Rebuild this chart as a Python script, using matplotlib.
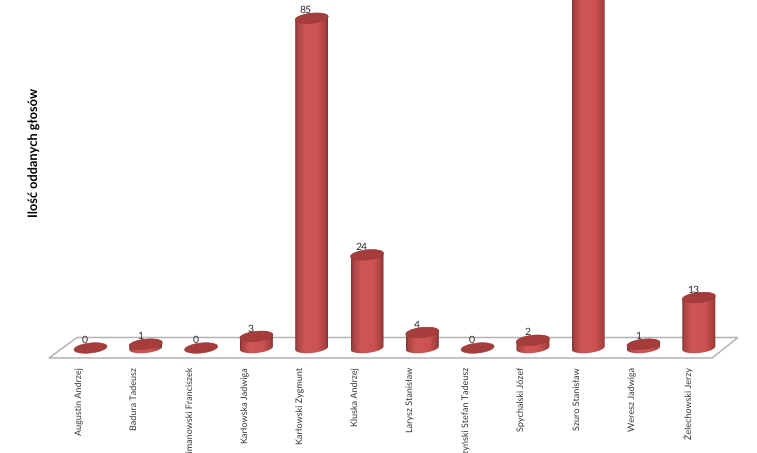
import numpy as np
import matplotlib
matplotlib.use("Agg")
import matplotlib.pyplot as plt
from matplotlib.colors import LinearSegmentedColormap
from matplotlib.patches import Polygon
from matplotlib.transforms import ScaledTranslation

names = ["Augustin Andrzej", "Badura Tadeusz", "Limanowski Franciszek", "Karłowska Jadwiga",
         "Karłowski Zygmunt", "Kluska Andrzej", "Larysz Stanisław", "Muszyński Stefan Tadeusz",
         "Spychalski Józef", "Szuro Stanisław", "Weresz Jadwiga", "Żelechowski Jerzy"]
votes = [0, 1, 0, 3, 85, 24, 4, 0, 2, 100, 1, 13]
shown_labels = [True] * 9 + [False] + [True] * 2

W, H = 757, 453
BASE_PX = 348          # pixel row of value 0
BOTTOM_PX = 362        # pixel row of the axes' lower edge
UNIT_PX = 3.88         # pixels per vote
STEP_PX = 55.3         # pixels per category
FIRST_PX = 90.5        # pixel column of first category

plt.rcParams["text.hinting"] = "no_hinting"
fig = plt.figure(figsize=(W / 100, H / 100), dpi=100, facecolor="white")
ax = fig.add_axes([0, (H - BOTTOM_PX) / H, 1, BOTTOM_PX / H])
xlim = (-FIRST_PX / STEP_PX, (W - FIRST_PX) / STEP_PX)
ylim = ((BASE_PX - BOTTOM_PX) / UNIT_PX, BASE_PX / UNIT_PX)
for s in ax.spines.values():
    s.set_visible(False)

font = ["Lato", "DejaVu Sans"]

# floor
def px(x, y):
    return ((x - FIRST_PX) / STEP_PX, (BASE_PX - y) / UNIT_PX)
floor = Polygon([px(49, 358), px(77, 337.5), px(738, 337.5), px(712, 358)], closed=True,
                facecolor="white", edgecolor="#b4b4b4", lw=1.1, clip_on=False, zorder=1)
ax.add_patch(floor)

cmap = LinearSegmentedColormap.from_list("cyl", [(0, "#823331"), (0.07, "#a84443"), (0.3, "#cf5654"),
                                                  (0.7, "#cb5250"), (0.93, "#a54140"), (1, "#7e3130")])
grad = np.linspace(0, 1, 128).reshape(1, -1)
a = 16.5 / STEP_PX
b = 5.0 / UNIT_PX
k = 1.6 / UNIT_PX

for i, v in enumerate(votes):
    t = np.linspace(0, 2 * np.pi, 80)
    ex = i + a * np.cos(t)
    ey = b * np.sin(t) + k * np.cos(t)
    if v > 0:
        tb = np.linspace(np.pi, 2 * np.pi, 40)
        tt = np.linspace(0, np.pi, 40)
        body = np.vstack([
            np.c_[i + a * np.cos(tb), b * np.sin(tb) + k * np.cos(tb)],
            np.c_[i + a * np.cos(tt), v + b * np.sin(tt) + k * np.cos(tt)],
        ])
        poly = Polygon(body, closed=True, transform=ax.transData, facecolor="none", edgecolor="none")
        ax.add_patch(poly)
        im = ax.imshow(grad, cmap=cmap, extent=[i - a, i + a, -b - k, v + b + k], aspect="auto",
                       zorder=2)
        im.set_clip_path(poly)
    ax.add_patch(Polygon(np.c_[ex, v + ey], closed=True, facecolor="#a53d3c", edgecolor="#963635",
                         lw=0.4, clip_on=False, zorder=3))
    if shown_labels[i]:
        ax.annotate(str(v), (i, v), xytext=(-4.2, 5.5), textcoords="offset points", ha="center",
                    va="center", fontsize=7.5, color="#2e2e2e", family=font, zorder=4)

ax.set_xlim(*xlim)
ax.set_ylim(*ylim)
ax.set_yticks([])
ax.set_xticks(range(len(names)), names, rotation=90, fontsize=6.5, color="#333333", family=font)
ax.tick_params(axis="x", length=0, pad=3.6)
shift = ScaledTranslation(-11 / 100, 0, fig.dpi_scale_trans)
for lab in ax.get_xticklabels():
    lab.set_transform(lab.get_transform() + shift)

ax.set_ylabel("Ilość oddanych głosów", fontsize=9.2, fontweight="bold", family=font, color="black")
ax.yaxis.set_label_coords(41 / W, (BOTTOM_PX - 152) / BOTTOM_PX)

fig.savefig("out.png", dpi=100, facecolor="white")
